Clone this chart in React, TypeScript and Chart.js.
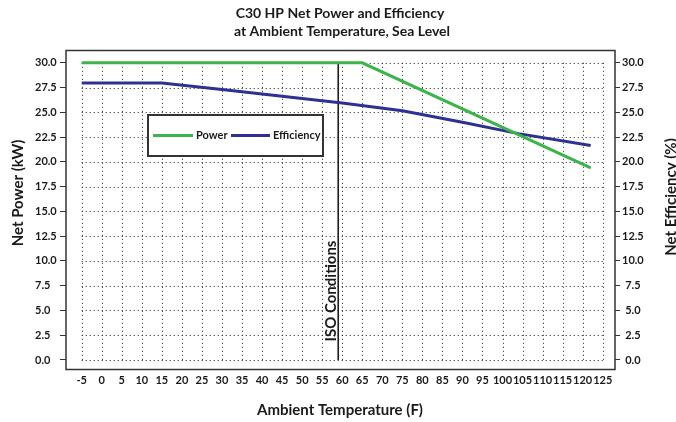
import React, { useEffect, useRef } from 'react';
import { Chart, registerables } from 'chart.js';

Chart.register(...registerables);

const TITLE_LINES = ['C30 HP Net Power and Efficiency', 'at Ambient Temperature, Sea Level'];
const X_TITLE = 'Ambient Temperature (F)';
const Y_TITLE = 'Net Power (kW)';
const Y2_TITLE = 'Net Efficiency (%)';
const ISO_LABEL = 'ISO Conditions';
const ISO_TEMP = 59;

const X_TICKS = [-5, 0, 5, 10, 15, 20, 25, 30, 35, 40, 45, 50, 55, 60, 65, 70, 75, 80, 85, 90, 95, 100, 105, 110, 115, 120, 125];
const Y_TICKS = [0, 2.5, 5, 7.5, 10, 12.5, 15, 17.5, 20, 22.5, 25, 27.5, 30];

const POWER_TEMPS = [-5, 65, 122];
const POWER_KW = [30, 30, 19.4];

const EFF_TEMPS = [-5, 15, 30, 60, 75, 90, 104, 122];
const EFF_PCT = [27.95, 27.95, 27.3, 25.95, 25.15, 24.0, 22.85, 21.65];

const GREEN = '#3cb44b';
const BLUE = '#2e3192';
const INK = '#1a1a1a';
const FONT = 'Lato';

const X_MIN = -8.92;
const X_MAX = 128.07;
const Y_MIN = -0.96;
const Y_MAX = 31.24;

const decorPlugin = {
  id: 'decor',
  beforeDatasetsDraw(chart: any) {
    const ctx = chart.ctx;
    const xs = chart.scales.x;
    const ys = chart.scales.y;
    const x0 = xs.getPixelForValue(X_TICKS[0]);
    const x1 = xs.getPixelForValue(X_TICKS[X_TICKS.length - 1]);
    const y0 = ys.getPixelForValue(Y_TICKS[0]);
    const y1 = ys.getPixelForValue(Y_TICKS[Y_TICKS.length - 1]);
    ctx.save();
    ctx.strokeStyle = '#222';
    ctx.lineWidth = 1;
    ctx.setLineDash([1, 3]);
    for (const v of X_TICKS) {
      const px = Math.round(xs.getPixelForValue(v)) + 0.5;
      ctx.beginPath();
      ctx.moveTo(px, y1);
      ctx.lineTo(px, y0);
      ctx.stroke();
    }
    for (const v of Y_TICKS) {
      const py = Math.round(ys.getPixelForValue(v)) + 0.5;
      ctx.beginPath();
      ctx.moveTo(x0, py);
      ctx.lineTo(x1, py);
      ctx.stroke();
    }
    ctx.setLineDash([]);
    // ISO line
    const ix = xs.getPixelForValue(ISO_TEMP);
    ctx.strokeStyle = '#111';
    ctx.lineWidth = 1.5;
    ctx.beginPath();
    ctx.moveTo(ix, y1);
    ctx.lineTo(ix, y0);
    ctx.stroke();
    // ISO text
    ctx.fillStyle = INK;
    ctx.font = `bold 15px ${FONT}`;
    ctx.textAlign = 'center';
    ctx.textBaseline = 'middle';
    ctx.translate(ix - 7.5, 291);
    ctx.rotate(-Math.PI / 2);
    ctx.fillText(ISO_LABEL, 0, 0);
    ctx.restore();
  },
  afterDatasetsDraw(chart: any) {
    const ctx = chart.ctx;
    const area = chart.chartArea;
    ctx.save();
    // legend
    const lx = 148, ly = 115, lw = 175, lh = 41;
    ctx.fillStyle = '#fff';
    ctx.fillRect(lx, ly, lw, lh);
    ctx.strokeStyle = '#333';
    ctx.lineWidth = 2;
    ctx.strokeRect(lx, ly, lw, lh);
    const ds = chart.data.datasets;
    const cy = ly + 20.5;
    const items = [
      { sx: 153, ex: 193, tx: 196 },
      { sx: 231, ex: 270, tx: 273 },
    ];
    ctx.font = `bold 11px ${FONT}`;
    ctx.textAlign = 'left';
    ctx.textBaseline = 'middle';
    items.forEach((it, i) => {
      ctx.strokeStyle = ds[i].borderColor;
      ctx.lineWidth = 3;
      ctx.beginPath();
      ctx.moveTo(it.sx, cy);
      ctx.lineTo(it.ex, cy);
      ctx.stroke();
      ctx.fillStyle = INK;
      ctx.fillText(ds[i].label, it.tx, cy);
    });
    // plot box
    ctx.strokeStyle = '#333';
    ctx.lineWidth = 1.5;
    ctx.strokeRect(area.left, area.top, area.right - area.left, area.bottom - area.top);
    // titles
    ctx.fillStyle = INK;
    ctx.textAlign = 'center';
    ctx.textBaseline = 'middle';
    ctx.font = `bold 14px ${FONT}`;
    ctx.fillText(TITLE_LINES[0], 340, 13);
    ctx.fillText(TITLE_LINES[1], 342, 31);
    ctx.font = `bold 15px ${FONT}`;
    ctx.fillText(X_TITLE, 340, 410);
    ctx.save();
    ctx.translate(18, 193);
    ctx.rotate(-Math.PI / 2);
    ctx.fillText(Y_TITLE, 0, 0);
    ctx.restore();
    ctx.save();
    ctx.translate(671, 197);
    ctx.rotate(-Math.PI / 2);
    ctx.fillText(Y2_TITLE, 0, 0);
    ctx.restore();
    ctx.restore();
  },
};

export default function App() {
  const ref = useRef<HTMLCanvasElement | null>(null);
  useEffect(() => {
    document.body.style.margin = '0';
    const canvas = ref.current;
    if (!canvas) return;
    const tickFont = { family: FONT, size: 11, weight: 'bold' as const };
    const chart = new Chart(canvas, {
      type: 'line',
      data: {
        datasets: [
          {
            label: 'Power',
            data: POWER_TEMPS.map((t, i) => ({ x: t, y: POWER_KW[i] })),
            borderColor: GREEN,
            backgroundColor: GREEN,
            borderWidth: 3,
            pointRadius: 0,
            tension: 0,
            yAxisID: 'y',
          },
          {
            label: 'Efficiency',
            data: EFF_TEMPS.map((t, i) => ({ x: t, y: EFF_PCT[i] })),
            borderColor: BLUE,
            backgroundColor: BLUE,
            borderWidth: 3,
            pointRadius: 0,
            tension: 0,
            yAxisID: 'y2',
          },
        ],
      },
      options: {
        responsive: false,
        animation: false,
        devicePixelRatio: 1,
        layout: { padding: { top: 50.5, left: 35, right: 0, bottom: 0 } },
        plugins: { legend: { display: false }, tooltip: { enabled: false }, title: { display: false } },
        scales: {
          x: {
            type: 'linear',
            min: X_MIN,
            max: X_MAX,
            afterBuildTicks: (s: any) => { s.ticks = X_TICKS.map((v) => ({ value: v })); },
            afterFit: (s: any) => { s.height = 52.5; },
            ticks: { font: tickFont, color: INK, padding: 4, maxRotation: 0, autoSkip: false, callback: (v: any) => String(v) },
            grid: { display: true, drawOnChartArea: false, drawTicks: false },
            border: { display: false },
          },
          y: {
            type: 'linear',
            position: 'left',
            min: Y_MIN,
            max: Y_MAX,
            afterBuildTicks: (s: any) => { s.ticks = Y_TICKS.map((v) => ({ value: v })); },
            afterFit: (s: any) => { s.width = 31; },
            ticks: { font: tickFont, color: INK, padding: 2, crossAlign: 'far', callback: (v: any) => Number(v).toFixed(1) },
            grid: { display: true, drawOnChartArea: false, drawTicks: true, tickLength: 6, color: '#333', tickWidth: 1 },
            border: { display: false },
          },
          y2: {
            type: 'linear',
            position: 'right',
            min: Y_MIN,
            max: Y_MAX,
            afterBuildTicks: (s: any) => { s.ticks = Y_TICKS.map((v) => ({ value: v })); },
            afterFit: (s: any) => { s.width = 61; },
            ticks: { font: tickFont, color: INK, padding: 2, crossAlign: 'center', callback: (v: any) => Number(v).toFixed(1) },
            grid: { display: true, drawOnChartArea: false, drawTicks: true, tickLength: 5, color: '#333', tickWidth: 1 },
            border: { display: false },
          },
        },
      } as any,
      plugins: [decorPlugin],
    });
    return () => chart.destroy();
  }, []);
  return (
    <div style={{ width: 676, height: 422, position: 'relative' }}>
      <canvas ref={ref} width={676} height={422} style={{ display: 'block' }} />
    </div>
  );
}
